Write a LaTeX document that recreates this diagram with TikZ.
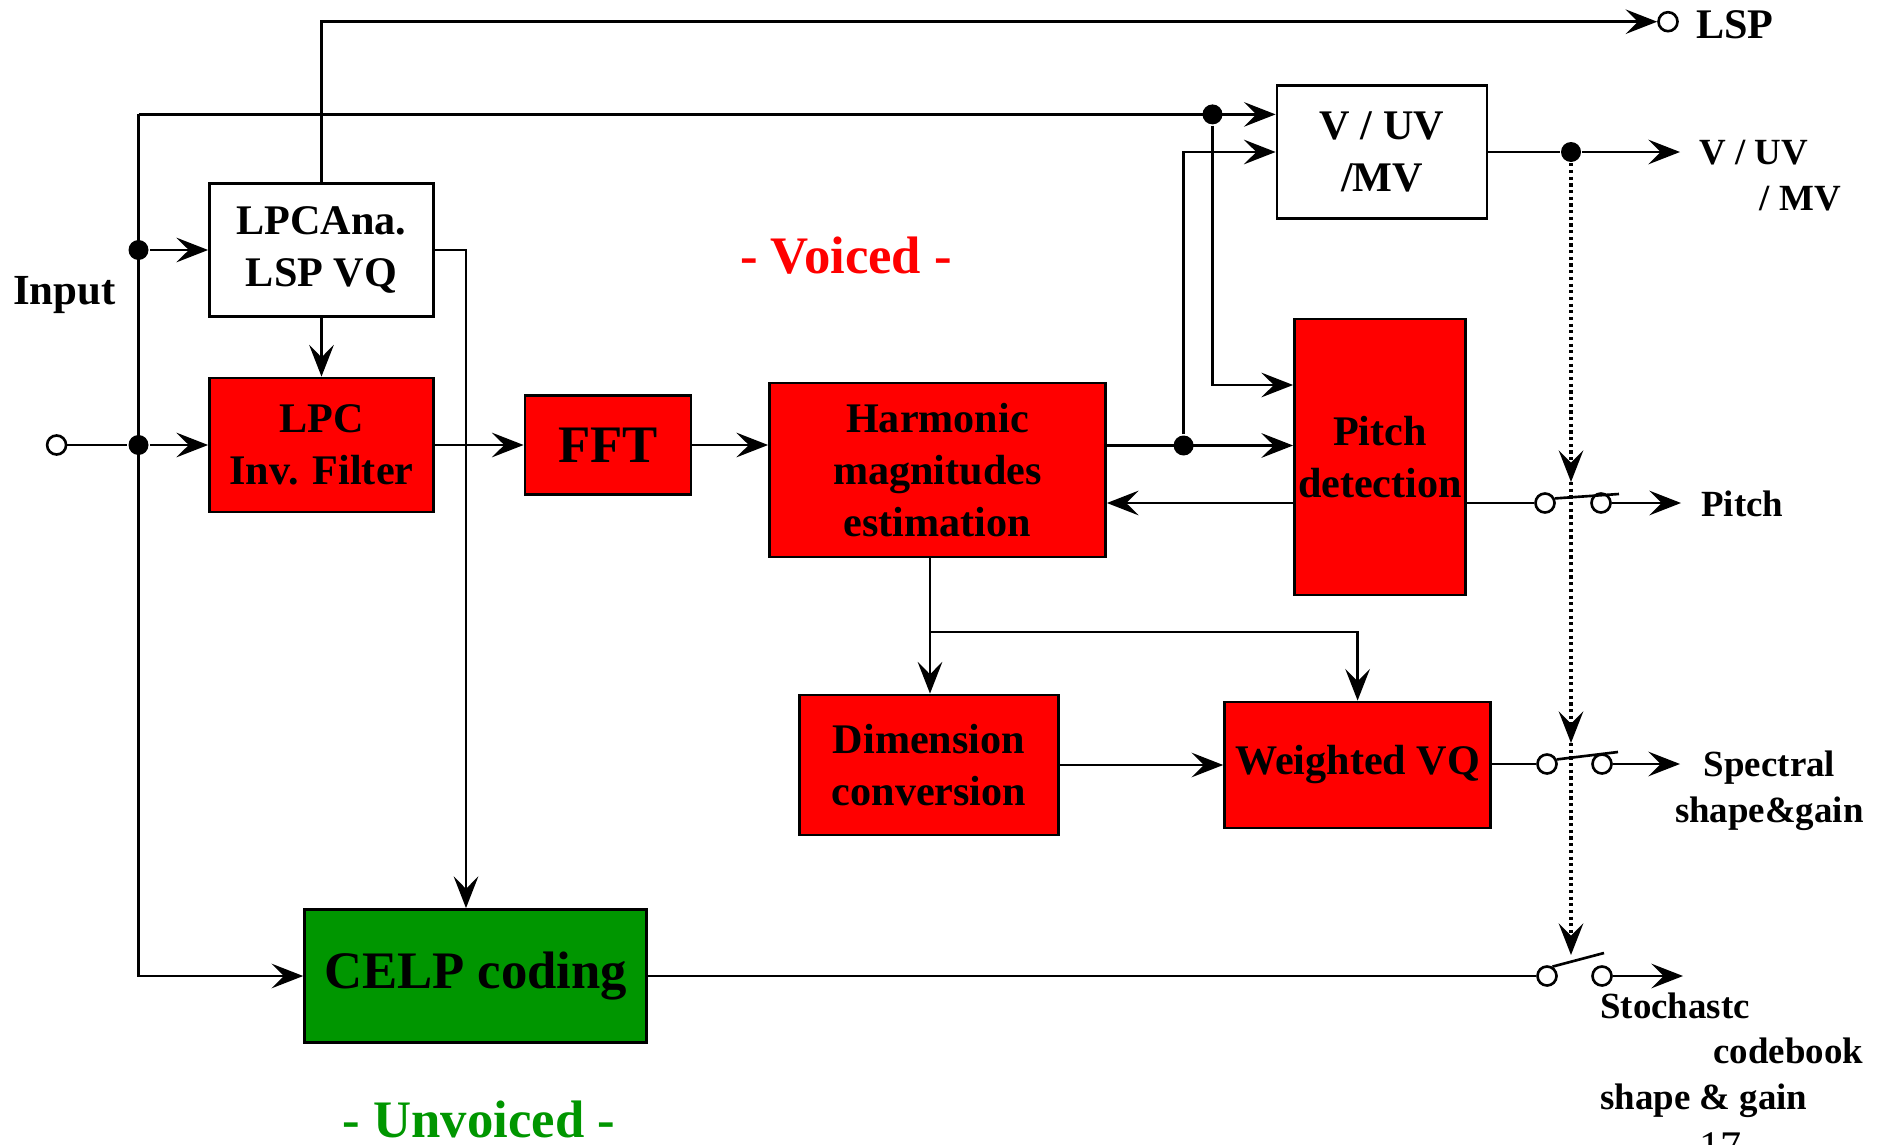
\documentclass[tikz,border=0pt]{standalone}
\usepackage{fontspec}
\setmainfont{Liberation Serif}
\usetikzlibrary{arrows.meta}
\definecolor{celpgreen}{RGB}{0,150,0}
\tikzset{
  blk/.style={draw, line width=0.8pt, inner sep=0pt, align=center,
    font=\fontsize{12}{14.8}\selectfont\bfseries},
  redblk/.style={blk, fill=red},
  bigtext/.style={font=\fontsize{15}{18}\selectfont\bfseries},
  junction/.style={circle, fill, inner sep=0pt, minimum size=2.0mm},
  terminal/.style={circle, draw, fill=white, inner sep=0pt, minimum size=1.9mm},
  lbl/.style={inner sep=0pt, font=\fontsize{10.5}{12}\selectfont\bfseries},
  arr/.style={-{Stealth[length=9pt,width=7pt,inset=3.5pt]}},
  ctrl/.style={densely dotted, line width=0.9pt}
}

\begin{document}
\begin{tikzpicture}[x=0.1mm, y=-0.1mm, line width=0.75pt]
      \useasboundingbox (0,0) rectangle (1888,1145);

      \node[blk, minimum width=22.4mm, minimum height=13.3mm] (lpcana) at (321.5,250) {LPCAna.\\LSP VQ};
      \node[redblk, minimum width=22.4mm, minimum height=13.4mm] (lpcinv) at (321.5,445) {LPC\\Inv. Filter};
      \node[redblk, bigtext, minimum width=16.6mm, minimum height=9.9mm] (fft) at (608,445) {FFT};
      \node[redblk, minimum width=33.6mm, minimum height=17.4mm] (harm) at (937.5,470) {Harmonic\\magnitudes\\estimation};
      \node[redblk, minimum width=17.1mm, minimum height=27.6mm] (pitch) at (1380,457) {Pitch\\detection};
      \node[blk, minimum width=21mm, minimum height=13.3mm] (vuv) at (1382,152) {V / UV\\/MV};
      \node[redblk, minimum width=25.9mm, minimum height=14mm] (dim) at (929,765) {Dimension\\conversion};
      \node[redblk, minimum width=26.6mm, minimum height=12.6mm] (wvq) at (1357.6,765) {Weighted VQ};
      \node[blk, bigtext, fill=celpgreen, minimum width=34.2mm, minimum height=13.3mm] (celp) at (475.6,976) {CELP coding};

      \node[terminal] (in) at (56.6,445) {};
      \node[terminal] (lsp) at (1668,21.7) {};
      \node[junction] (jana) at (138.5,250) {};
      \node[junction] (jinv) at (138.5,445) {};
      \node[junction] (jvuv) at (1212.5,114.4) {};
      \node[junction] (jharm) at (1183.6,445.5) {};
      \node[junction] (jsel) at (1571,152) {};
      \coordinate (bustop) at (138.5,114.4);
      \coordinate (acorner) at (466,250);
      \coordinate (pin) at (0,385);
      \coordinate (hsplit) at (930,632);

      \node[terminal] (p1) at (1545,503) {};
      \node[terminal] (p2) at (1601,503) {};
      \node[terminal] (w1) at (1547,764) {};
      \node[terminal] (w2) at (1602,764) {};
      \node[terminal] (c1) at (1547,976) {};
      \node[terminal] (c2) at (1602,976) {};
      \coordinate (pblade) at (1619,494);
      \coordinate (wblade) at (1618,752);
      \coordinate (cblade) at (1604,953);
      \coordinate (ptip) at (1571,482);
      \coordinate (wtip) at (1571,743);
      \coordinate (ctip) at (1571,955);
      \coordinate (vuvout) at (1680,152);
      \coordinate (pout) at (1681,503);
      \coordinate (wout) at (1680,764);
      \coordinate (cout) at (1683,976);

      \draw (in) -- (jinv);
      \draw[arr] (jinv) -- (lpcinv);
      \draw[arr] (jana) -- (lpcana);
      \draw[arr] (bustop) |- (celp.west);
      \draw[arr] (bustop) -- (vuv.west |- bustop);
      \draw[arr] (lpcana) -- (lpcinv);
      \draw[arr] (lpcana.north) |- (lsp);
      \draw[arr] (lpcana.east) -- (acorner) -- (acorner |- celp.north);
      \draw[arr] (lpcinv) -- (fft);
      \draw[arr] (fft.east) -- (fft.east -| harm.west);
      \draw[arr] (harm.east |- jharm) -- (pitch.west |- jharm);
      \draw[arr] (jharm) |- (vuv.west);
      \draw[arr] (jvuv) |- (pitch.west |- pin);
      \draw[arr] (pitch.west |- p1) -- (harm.east |- p1);
      \draw (hsplit |- harm.south) -- (hsplit);
      \draw[arr] (hsplit) -- (hsplit |- dim.north);
      \draw[arr] (hsplit) -| (wvq.north);
      \draw[arr] (dim) -- (wvq);

      \draw (vuv.east) -- (jsel);
      \draw[arr] (jsel) -- (vuvout);
      \draw (pitch.east |- p1) -- (p1);
      \draw (p1.25) -- (pblade);
      \draw[arr] (p2) -- (pout);
      \draw (wvq.east |- w1) -- (w1);
      \draw (w1.25) -- (wblade);
      \draw[arr] (w2) -- (wout);
      \draw (celp.east |- c1) -- (c1);
      \draw (c1.60) -- (cblade);
      \draw[arr] (c2) -- (cout);
      \draw[ctrl, arr] (jsel) -- (ptip);
      \draw[ctrl, arr] (ptip) -- (wtip);
      \draw[ctrl, arr] (wtip) -- (ctip);

      \node[lbl, anchor=base west, font=\fontsize{12}{14}\selectfont\bfseries] (lsplbl) at (1695,38) {LSP};
      \node[lbl, anchor=base west] (vuvlbl) at (1698,164) {V / UV};
      \node[lbl, anchor=base east] (mvlbl) at (1842,210) {/ MV};
      \node[lbl, anchor=base west] (pitchlbl) at (1700,516) {Pitch};
      \node[lbl, anchor=base west] (speclbl) at (1702.6,776) {Spectral};
      \node[lbl, anchor=base west] (shapelbl) at (1673.7,822) {shape\&gain};
      \node[lbl, anchor=base west] (stochlbl) at (1599,1018) {Stochastc};
      \node[lbl, anchor=base west] (cblbl) at (1712,1063) {codebook};
      \node[lbl, anchor=base west] (sglbl) at (1599,1109) {shape \& gain};
      \node[lbl, anchor=base west, font=\fontsize{12.2}{14}\selectfont\bfseries] (inlbl) at (12,304) {Input};
      \node[anchor=base, inner sep=0pt, text=red, bigtext] (voiced) at (846,273) {- Voiced -};
      \node[anchor=base, inner sep=0pt, text=celpgreen, bigtext] (unvoiced) at (479,1137.5) {- Unvoiced -};
      \node[anchor=north west, inner sep=0pt, font=\fontsize{12}{14}\selectfont] (page) at (1698,1131) {17};
\end{tikzpicture}
\end{document}
